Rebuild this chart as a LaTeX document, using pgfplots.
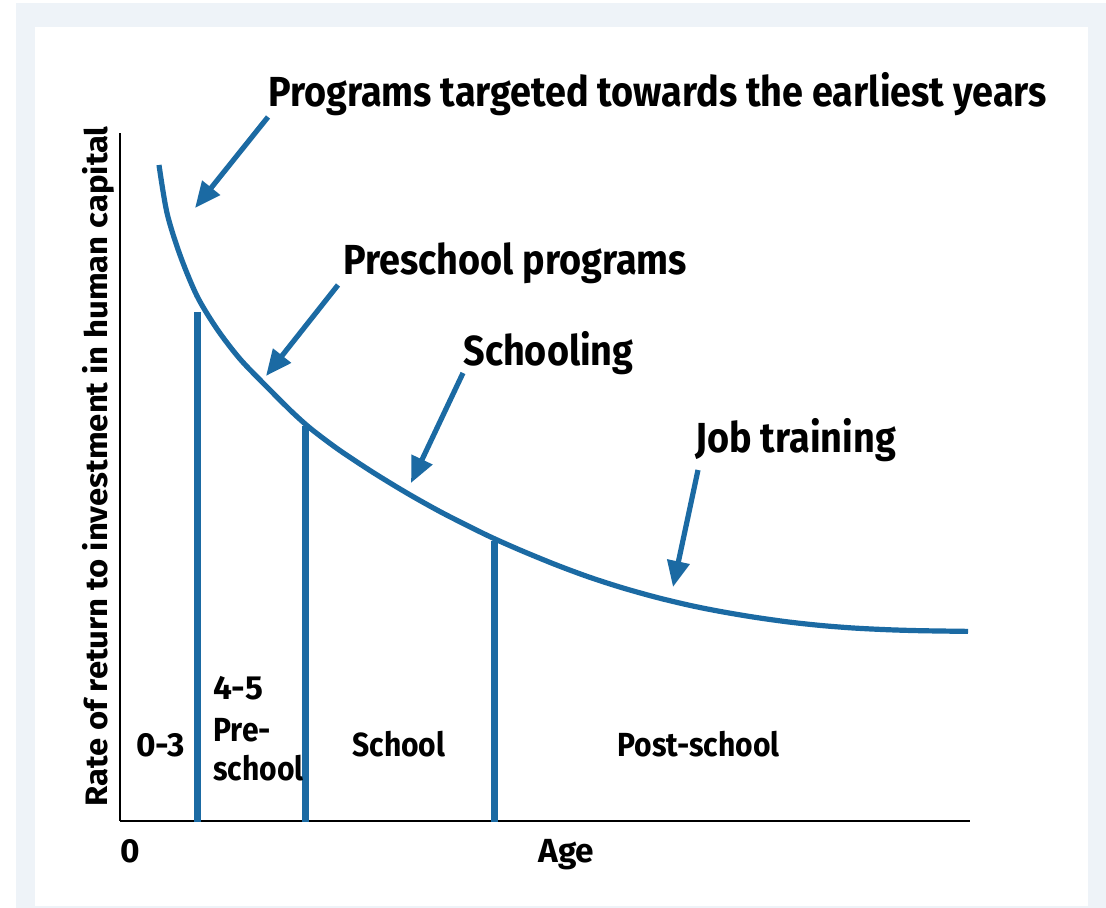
\documentclass[border=0pt]{standalone}
\usepackage{pgfplots}
\pgfplotsset{compat=1.18}
\usepackage{fontspec}
\setmainfont{Fira Sans}
\newfontfamily\cond{Fira Sans}[FakeStretch=0.9]
\newfontfamily\wide{Fira Sans}[FakeStretch=1.06]
\usetikzlibrary{arrows.meta}
\definecolor{curveblue}{HTML}{1B6AA3}
\definecolor{bgout}{HTML}{EEF3F8}
\begin{document}
\begin{tikzpicture}[x=0.5pt,y=0.5pt]
\fill[white] (0,0) rectangle (1106,908);
\fill[bgout] (16,0) rectangle (1106,905);
\fill[white] (35,2) rectangle (1088,881);
\begin{axis}[at={(60pt,43.5pt)}, anchor=south west, scale only axis,
  width=425pt, height=344pt, xmin=120, xmax=970, ymin=87, ymax=775,
  axis x line=bottom, axis y line=left,
  axis line style={-, line width=1pt, black},
  xtick=\empty, ytick=\empty, clip=false]
\addplot[curveblue, line width=2.6pt, smooth] coordinates {
(159,743) (167,695) (180,653) (197,612) (217,579) (240,549) (267,521)
(290,498) (305,484.2) (317,474.4) (340,457.4) (373,435.6) (407,414.9)
(440,396.4) (473,379.6) (495,369) (523,356.7) (557,342.8) (590,330.6)
(623,320) (657,310.5) (690,302.6) (720,296.6) (753,291) (787,286.2)
(820,282.6) (853,280) (887,278.3) (920,277.3) (968,276.6)};
\addplot[curveblue, line width=3.5pt] coordinates {(197.5,86) (197.5,596)};
\addplot[curveblue, line width=3.5pt] coordinates {(305,86) (305,482)};
\addplot[curveblue, line width=3.5pt] coordinates {(494.5,86) (494.5,367)};
\end{axis}
\tikzset{arr/.style={curveblue, line width=2.6pt, -{Triangle[length=13pt,width=11pt]}}}
\draw[arr] (268,791) -- (195,700);
\draw[arr] (338,623) -- (266,532);
\draw[arr] (463,535) -- (411,425);
\draw[arr] (698,438) -- (673,321);
\tikzset{big/.style={anchor=base west, inner sep=0pt, font=\cond\bfseries\fontsize{21}{24}\selectfont},
  small/.style={anchor=base west, inner sep=0pt, font=\cond\bfseries\fontsize{16.7}{20}\selectfont},
  num/.style={anchor=base west, inner sep=0pt, font=\bfseries\fontsize{16.7}{20}\selectfont}}
\node[big] at (268,801) {Programs targeted towards the earliest years};
\node[big] at (343,633) {Preschool programs};
\node[big] at (463,542) {Schooling};
\node[big] at (695,455) {Job training};
\node[num] at (136,151) {0-3};
\node[num] at (213,208) {4-5};
\node[small] at (213,166) {Pre-};
\node[small] at (213,127) {school};
\node[small] at (352,151) {School};
\node[small] at (617,151) {Post-school};
\node[num] at (120,45) {0};
\node[num] at (538,45) {Age};
\node[rotate=90, anchor=base, inner sep=0pt, font=\wide\bfseries\fontsize{15.5}{18}\selectfont] at (107,441.5) {Rate of return to investment in human capital};
\end{tikzpicture}
\end{document}
